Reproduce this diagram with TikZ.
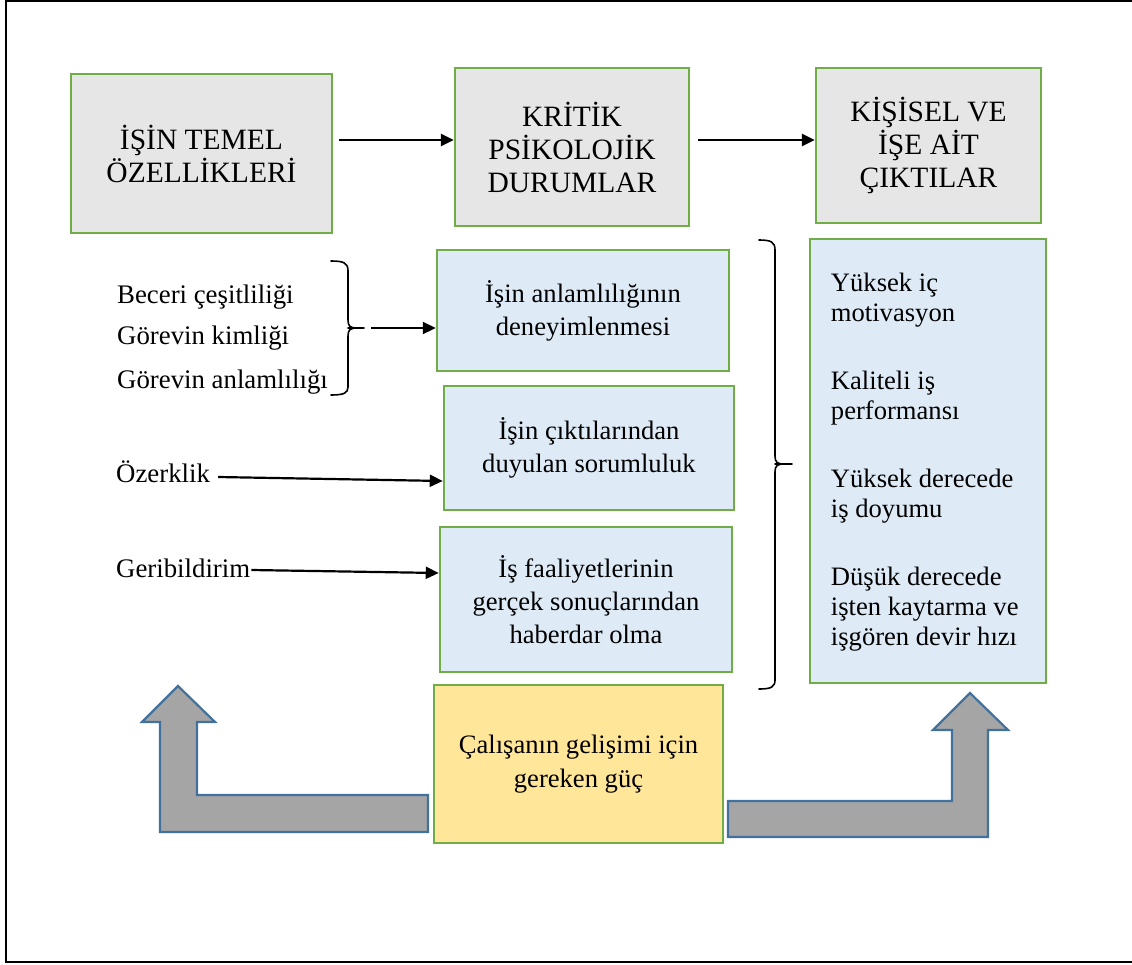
\documentclass[tikz,border=0pt]{standalone}
\usepackage{fontspec}
\setmainfont{Liberation Serif}
\usetikzlibrary{arrows.meta}
\definecolor{bgreen}{HTML}{70AD47}
\definecolor{topgray}{HTML}{E7E6E6}
\definecolor{lblue}{HTML}{DEEBF7}
\definecolor{lyellow}{HTML}{FFE699}
\definecolor{agray}{HTML}{A5A5A5}
\definecolor{ablue}{HTML}{41719C}
\begin{document}
\begin{tikzpicture}[x=1pt,y=-1pt,
  topbox/.style={draw=bgreen, line width=2.5pt, fill=topgray, align=center, font=\fontsize{29.5}{33}\selectfont, inner sep=0pt},
  bluebox/.style={draw=bgreen, line width=2.5pt, fill=lblue, align=center, font=\fontsize{26.6}{33}\selectfont, inner sep=0pt},
  lbl/.style={anchor=west, inner sep=0pt, font=\fontsize{26.8}{30}\selectfont, text height=18pt, text depth=6pt},
  arr/.style={line width=2.2pt, -{Triangle[length=13pt,width=12pt]}},
  bracestyle/.style={line width=1.6pt, line cap=round},
  bigarrow/.style={fill=agray, draw=ablue, line width=2.2pt, line join=miter}]
\useasboundingbox (0,0) rectangle (1132,964);
% frame
\draw[line width=2pt] (6,1) rectangle (1140,962);

% top boxes
\node[topbox, minimum width=261pt, minimum height=159pt] (t1) at (201.5,153.5) {İŞİN TEMEL\\ÖZELLİKLERİ};
\node[topbox, minimum width=234pt, minimum height=158pt] (t2) at (572,147) {KRİTİK\\PSİKOLOJİK\\DURUMLAR};
\node[topbox, minimum width=225pt, minimum height=155pt] (t3) at (928.5,145.5) {KİŞİSEL VE\\İŞE AİT\\ÇIKTILAR};
\draw[arr, line width=2.8pt] ([xshift=6pt,yshift=13.5pt]t1.east) -- ([yshift=7pt]t2.west);
\draw[arr, line width=2.8pt] ([xshift=8pt,yshift=7pt]t2.east) -- ([yshift=5.5pt]t3.west);

% middle boxes
\node[bluebox, minimum width=292pt, minimum height=121pt] (m1) at (583,310.5) {İşin anlamlılığının\\deneyimlenmesi};
\node[bluebox, minimum width=290pt, minimum height=124pt] (m2) at (589,448) {İşin çıktılarından\\duyulan sorumluluk};
\node[bluebox, minimum width=292pt, minimum height=145pt] (m3) at (586,599.5) {İş faaliyetlerinin\\gerçek sonuçlarından\\haberdar olma};

% right box
\node[draw=bgreen, line width=2.5pt, fill=lblue, inner sep=0pt, minimum width=236pt, minimum height=444pt] (r) at (928,461) {};
\node[anchor=west, align=left, inner sep=0pt, font=\fontsize{26.6}{30}\selectfont] (rt) at ([xshift=22pt,yshift=-1pt]r.west)
  {Yüksek iç\\motivasyon\\[38pt]Kaliteli iş\\performansı\\[38pt]Yüksek derecede\\iş doyumu\\[38pt]Düşük derecede\\işten kaytarma ve\\işgören devir hızı};

% yellow box
\node[draw=bgreen, line width=2.5pt, fill=lyellow, align=center, inner sep=0pt, minimum width=289pt, minimum height=158pt,
      font=\fontsize{26.6}{34}\selectfont] (y) at (578.5,764) {Çalışanın gelişimi için\\gereken güç};

% left labels
\node[lbl] (l1) at (117,297) {Beceri çeşitliliği};
\node[lbl] (l2) at (117,338) {Görevin kimliği};
\node[lbl] (l3) at (117,382) {Görevin anlamlılığı};
\node[lbl] (l4) at (116,476) {Özerklik};
\node[lbl] (l5) at (116,571) {Geribildirim};

% left brace
\draw[bracestyle] (331,261) .. controls (344,261) and (348,263) .. (348,271) -- (348,320)
   .. controls (348,326) and (350,328) .. (357,328)
   .. controls (350,328) and (348,330) .. (348,336) -- (348,387)
   .. controls (348,393) and (344,395) .. (331,395);
\draw[bracestyle] (348,328) -- (364,328);
\coordinate (lb) at (371,328);
\draw[arr] (lb) -- ([yshift=-17.5pt]m1.west);

% right brace
\draw[bracestyle] (759,240) .. controls (771,240) and (775,242) .. (775,250) -- (775,456)
   .. controls (775,462) and (777,464) .. (784,464)
   .. controls (777,464) and (775,466) .. (775,472) -- (775,680)
   .. controls (775,687) and (771,689) .. (759,689);
\draw[bracestyle] (775,464) -- (792,464);

% arrows from labels
\draw[arr] ([xshift=8pt,yshift=-1pt]l4.east) -- ([yshift=-33pt]m2.west);
\draw[arr] ([xshift=1pt,yshift=1pt]l5.east) -- ([yshift=26.5pt]m3.west);

% big bent arrows
\draw[bigarrow] (428,795) -- (197,795) -- (197,722) -- (215,722) -- (178,686) -- (142,722) -- (160,722) -- (160,832) -- (428,832) -- cycle;
\draw[bigarrow] (728,801) -- (952,801) -- (952,730) -- (933,730) -- (970,693) -- (1008,730) -- (988,730) -- (988,837) -- (728,837) -- cycle;
\end{tikzpicture}
\end{document}
